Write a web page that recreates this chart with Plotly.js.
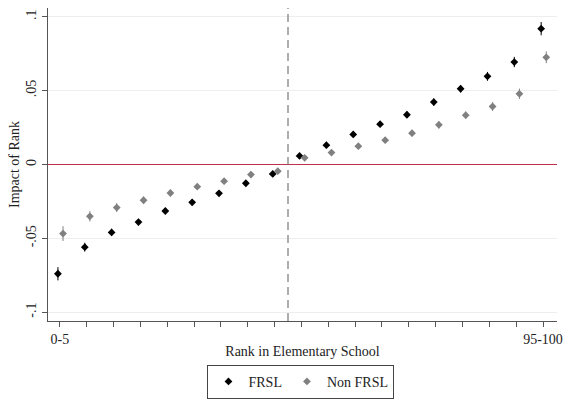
<!DOCTYPE html>
<html>
<head>
<meta charset="utf-8">
<script src="https://cdn.plot.ly/plotly-3.0.1.min.js"></script>
<style>html,body{margin:0;padding:0;background:#fff;}#chart{width:565px;height:399px;}</style>
</head>
<body>
<div id="chart"></div>
<script>
// Rank bins (19 plotted bins, evenly spaced)
const binIndex = [0,1,2,3,4,5,6,7,8,9,10,11,12,13,14,15,16,17,18];
const tickLabels = ["0-5","","","","","","","","","","","","","","","","","","95-100"];

const frslValues = [-0.074,-0.056,-0.046,-0.039,-0.0315,-0.0256,-0.0195,-0.0127,-0.0064,0.0058,0.0131,0.0204,0.0273,0.0337,0.0423,0.0513,0.0597,0.0694,0.092];
const frslErr    = [0.0045,0.003,0.0025,0.0022,0.002,0.002,0.002,0.002,0.002,0.002,0.002,0.002,0.002,0.0022,0.0025,0.0025,0.003,0.0035,0.0045];

const nonFrslValues = [-0.0468,-0.0351,-0.0292,-0.0242,-0.0193,-0.0150,-0.0113,-0.0068,-0.0045,0.0045,0.0081,0.0124,0.0165,0.0212,0.0269,0.0334,0.0393,0.0479,0.0726];
const nonFrslErr    = [0.005,0.0035,0.003,0.0025,0.0022,0.002,0.002,0.002,0.002,0.002,0.002,0.002,0.002,0.0022,0.0025,0.0025,0.003,0.0035,0.004];

const yTickVals = [-0.1,-0.05,0,0.05,0.1];
const yTickText = ["-.1","-.05","0",".05",".1"];
const cutoff = 8.5;
const zeroRef = 0;

const serif = "Liberation Serif, Times New Roman, serif";
const dodgeFrsl = -0.07, dodgeNon = 0.12;

const traces = [
  {
    type: "scatter", mode: "markers", name: "FRSL",
    x: binIndex.map(i => i + dodgeFrsl), y: frslValues,
    marker: {symbol: "diamond", size: 6, color: "#000000"},
    error_y: {type: "data", array: frslErr, visible: true, color: "#000000", thickness: 1, width: 0}
  },
  {
    type: "scatter", mode: "markers", name: "Non FRSL",
    x: binIndex.map(i => i + dodgeNon), y: nonFrslValues,
    marker: {symbol: "diamond", size: 6, color: "#808080"},
    error_y: {type: "data", array: nonFrslErr, visible: true, color: "#808080", thickness: 1, width: 0}
  }
];

const layout = {
  width: 565, height: 399,
  margin: {l: 48, r: 8, t: 8, b: 78, autoexpand: false},
  paper_bgcolor: "#ffffff", plot_bgcolor: "#ffffff",
  font: {family: serif, size: 14, color: "#222"},
  showlegend: true,
  legend: {
    orientation: "h", x: 0.497, xanchor: "center", y: -0.14, yanchor: "top",
    bordercolor: "#444", borderwidth: 1, font: {family: serif, size: 14, color: "#222"},
    itemwidth: 30, tracegroupgap: 0
  },
  xaxis: {
    range: [-0.44, 18.52], automargin: true,
    tickmode: "array", tickvals: binIndex, ticktext: tickLabels,
    ticks: "outside", ticklen: 5, tickcolor: "#555",
    showline: true, linecolor: "#555", linewidth: 1,
    showgrid: false, zeroline: false,
    tickfont: {family: serif, size: 14, color: "#222"},
    title: {text: "Rank in Elementary School", font: {family: serif, size: 14, color: "#222"}, standoff: 0}
  },
  yaxis: {
    range: [-0.106, 0.106], automargin: true,
    tickmode: "array", tickvals: yTickVals, ticktext: yTickText,
    tickangle: -90,
    ticks: "outside", ticklen: 5, tickcolor: "#555",
    showline: true, linecolor: "#555", linewidth: 1,
    showgrid: true, gridcolor: "#eeeeee", gridwidth: 1,
    zeroline: false,
    tickfont: {family: serif, size: 14, color: "#222"},
    title: {text: "Impact of Rank", font: {family: serif, size: 14, color: "#222"}, standoff: 1}
  },
  shapes: [
    {type: "line", xref: "paper", yref: "y", x0: 0, x1: 1, y0: zeroRef, y1: zeroRef,
     line: {color: "#c0304d", width: 1}},
    {type: "line", xref: "x", yref: "paper", x0: cutoff, x1: cutoff, y0: 0, y1: 1,
     line: {color: "#777", width: 1.2, dash: "8px,5px"}}
  ]
};

Plotly.newPlot("chart", traces, layout, {displayModeBar: false, staticPlot: true});
</script>
</body>
</html>
